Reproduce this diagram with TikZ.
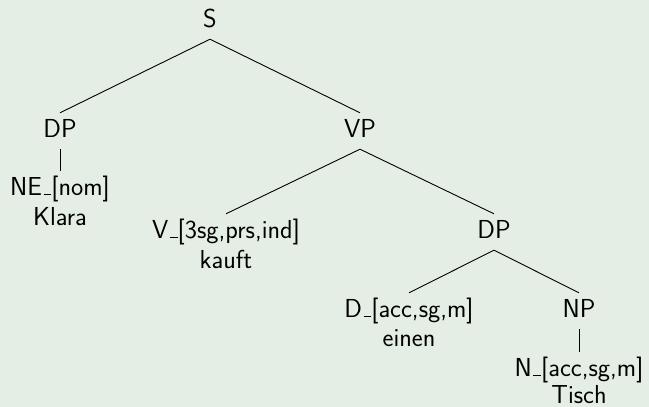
\documentclass[tikz,border=0pt]{standalone}
\usepackage{fontspec}
\definecolor{paper}{RGB}{229,238,228}
% a short rule on the baseline, as in the OT1 underscore
\newcommand\lowbar{\leavevmode\kern.06em\vbox{\hrule height 1pt width .3em}}
\begin{document}
\begin{tikzpicture}[x=1pt,y=-1pt,
  treefont/.style={font=\sffamily\fontsize{26}{30}\selectfont},
  lab/.style={treefont, anchor=base, inner sep=0pt, text height=24pt, text depth=12pt},
  word/.style={treefont, anchor=base, inner sep=0pt},
  edge/.style={line width=0.9pt, black}]
\fill[paper] (0,0) rectangle (649,407);
\useasboundingbox (0,0) rectangle (649,407);

% category labels
\node[lab] (s)   at (210,27)  {S};
\node[lab] (dp1) at (60,137)  {DP};
\node[lab] (vp)  at (360,137) {VP};
\node[lab] (ne)  at (60,195)  {NE\lowbar[nom]};
\node[lab] (v)   at (226,238) {V\lowbar[3sg,prs,ind]};
\node[lab] (dp2) at (494,238) {DP};
\node[lab] (d)   at (409,317) {D\lowbar[acc,sg,m]};
\node[lab] (np)  at (579,317) {NP};
\node[lab] (n)   at (579,376) {N\lowbar[acc,sg,m]};

% word forms under the terminals
\node[word] (klara) at (60,225)  {Klara};
\node[word] (kauft) at (226,268) {kauft};
\node[word] (einen) at (409,346) {einen};
\node[word] (tisch) at (579,403) {Tisch};

% branches
\draw[edge] (s.south)   -- (dp1.north);
\draw[edge] (s.south)   -- (vp.north);
\draw[edge] (dp1.south) -- (ne.north);
\draw[edge] (vp.south)  -- (v.north);
\draw[edge] (vp.south)  -- (dp2.north);
\draw[edge] (dp2.south) -- (d.north);
\draw[edge] (dp2.south) -- (np.north);
\draw[edge] (np.south)  -- (n.north);
\end{tikzpicture}
\end{document}
